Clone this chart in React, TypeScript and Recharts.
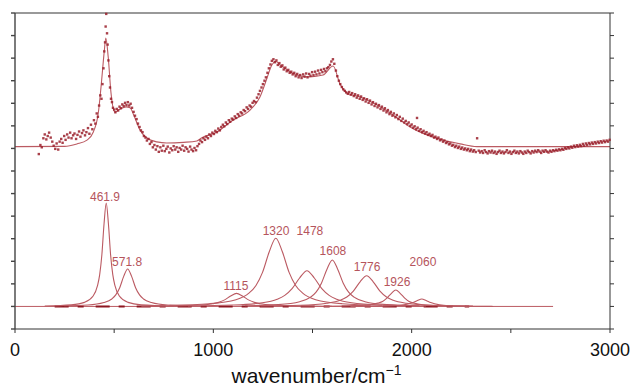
import {
  ComposedChart,
  Line,
  Scatter,
  XAxis,
  YAxis,
  ReferenceLine,
} from "recharts";

type Pt = [number, number];

// measured spectrum (wavenumber, intensity)
const spectrum: Pt[] = [
  [120, 7.75], [128, 8.15], [135, 8.05], [143, 8.45], [150, 8.62], [158, 8.4], [165, 8.55], [172, 8.7],
  [180, 8.48], [188, 8.3], [195, 8.12], [203, 7.98], [210, 8.22], [218, 7.95], [225, 8.3], [233, 8.42],
  [240, 8.25], [248, 8.55], [255, 8.38], [263, 8.62], [270, 8.48], [278, 8.7], [285, 8.45], [293, 8.58],
  [300, 8.66], [308, 8.42], [315, 8.6], [323, 8.75], [330, 8.52], [338, 8.68], [345, 8.8], [353, 8.58],
  [360, 8.72], [368, 8.9], [375, 8.65], [383, 9.05], [390, 8.85], [398, 9.25], [405, 9.1], [412, 9.55],
  [418, 9.4], [424, 9.9], [430, 10.35], [436, 10.2], [441, 10.85], [446, 11.55], [450, 12.3], [454, 12.7],
  [457, 13.4], [460, 13.96], [464, 13.1], [467, 12.6], [471, 11.9], [475, 11.2], [479, 10.7], [484, 10.2],
  [489, 10.05], [494, 9.8], [500, 9.72], [506, 9.6], [513, 9.75], [520, 9.68], [527, 9.85], [534, 9.78],
  [541, 9.95], [548, 9.88], [555, 10.02], [562, 9.92], [569, 10.05], [576, 9.9], [583, 9.98], [590, 9.8],
  [598, 9.62], [605, 9.45], [613, 9.3], [620, 9.1], [628, 8.95], [635, 8.8], [643, 8.72], [650, 8.55],
  [658, 8.48], [665, 8.35], [673, 8.42], [680, 8.2], [688, 8.28], [695, 8.05], [703, 8.15], [710, 7.95],
  [718, 8.1], [725, 7.85], [733, 8.05], [740, 7.9], [748, 8.12], [755, 7.88], [763, 7.98], [770, 8.08],
  [778, 7.82], [785, 8.0], [793, 7.92], [800, 8.1], [808, 7.95], [815, 8.05], [823, 7.85], [830, 8.02],
  [838, 7.95], [845, 8.12], [853, 7.9], [860, 8.05], [868, 7.98], [875, 7.86], [883, 8.08], [890, 7.95],
  [898, 7.88], [905, 8.02], [913, 7.92], [920, 8.1], [928, 8.2], [935, 8.35], [943, 8.28], [950, 8.45],
  [958, 8.38], [965, 8.52], [973, 8.45], [980, 8.62], [988, 8.55], [995, 8.7], [1003, 8.64], [1010, 8.78],
  [1018, 8.72], [1025, 8.88], [1033, 8.8], [1040, 8.95], [1048, 9.05], [1055, 8.98], [1063, 9.15], [1070, 9.08],
  [1078, 9.25], [1085, 9.18], [1093, 9.32], [1100, 9.28], [1108, 9.42], [1115, 9.35], [1123, 9.52], [1130, 9.45],
  [1138, 9.6], [1145, 9.55], [1153, 9.7], [1160, 9.65], [1168, 9.82], [1175, 9.75], [1183, 9.9], [1190, 9.85],
  [1198, 10.02], [1205, 10.1], [1213, 10.05], [1220, 10.25], [1228, 10.4], [1235, 10.55], [1243, 10.7], [1250, 10.85],
  [1258, 11.0], [1265, 11.15], [1273, 11.35], [1280, 11.55], [1288, 11.72], [1295, 11.88], [1303, 11.95], [1310, 11.82],
  [1318, 11.9], [1325, 11.7], [1333, 11.78], [1340, 11.62], [1348, 11.68], [1355, 11.5], [1363, 11.58], [1370, 11.42],
  [1378, 11.48], [1385, 11.35], [1393, 11.4], [1400, 11.28], [1408, 11.35], [1415, 11.2], [1423, 11.3], [1430, 11.15],
  [1438, 11.25], [1445, 11.12], [1453, 11.28], [1460, 11.18], [1468, 11.32], [1475, 11.15], [1483, 11.3], [1490, 11.22],
  [1498, 11.38], [1505, 11.25], [1513, 11.4], [1520, 11.28], [1528, 11.45], [1535, 11.32], [1543, 11.48], [1550, 11.38],
  [1558, 11.52], [1565, 11.42], [1573, 11.55], [1580, 11.6], [1588, 11.7], [1595, 11.85], [1603, 11.95], [1610, 11.75],
  [1618, 11.45], [1625, 11.2], [1633, 11.0], [1640, 10.85], [1648, 10.72], [1655, 10.62], [1663, 10.55], [1670, 10.48],
  [1678, 10.42], [1685, 10.5], [1693, 10.38], [1700, 10.45], [1708, 10.32], [1715, 10.4], [1723, 10.25], [1730, 10.35],
  [1738, 10.2], [1745, 10.3], [1753, 10.15], [1760, 10.22], [1768, 10.08], [1775, 10.18], [1783, 10.02], [1790, 10.12],
  [1798, 9.95], [1805, 10.05], [1813, 9.88], [1820, 9.98], [1828, 9.82], [1835, 9.92], [1843, 9.75], [1850, 9.85],
  [1858, 9.68], [1865, 9.78], [1873, 9.6], [1880, 9.7], [1888, 9.52], [1895, 9.62], [1903, 9.45], [1910, 9.55],
  [1918, 9.38], [1925, 9.48], [1933, 9.3], [1940, 9.4], [1948, 9.22], [1955, 9.32], [1963, 9.15], [1970, 9.22],
  [1978, 9.08], [1985, 9.15], [1993, 9.0], [2000, 9.06], [2008, 8.92], [2015, 8.98], [2023, 8.85], [2027, 9.35],
  [2030, 8.92], [2038, 8.78], [2045, 8.85], [2053, 8.72], [2060, 8.78], [2068, 8.66], [2075, 8.72], [2083, 8.6],
  [2090, 8.65], [2098, 8.55], [2105, 8.6], [2113, 8.48], [2120, 8.52], [2128, 8.42], [2135, 8.48], [2143, 8.36],
  [2150, 8.4], [2158, 8.3], [2165, 8.35], [2173, 8.24], [2180, 8.28], [2188, 8.18], [2195, 8.22], [2203, 8.12],
  [2210, 8.16], [2218, 8.06], [2225, 8.12], [2233, 8.02], [2240, 8.08], [2248, 7.98], [2255, 8.04], [2263, 7.95],
  [2270, 8.0], [2278, 7.92], [2285, 7.98], [2293, 7.88], [2300, 7.95], [2308, 7.86], [2315, 7.92], [2323, 7.84],
  [2330, 8.45], [2338, 7.9], [2345, 7.82], [2353, 7.88], [2360, 7.8], [2368, 7.92], [2375, 7.84], [2383, 7.78],
  [2390, 7.88], [2398, 7.82], [2405, 7.9], [2413, 7.8], [2420, 7.86], [2428, 7.76], [2435, 7.84], [2443, 7.9],
  [2450, 7.8], [2458, 7.86], [2465, 7.78], [2473, 7.84], [2480, 7.92], [2488, 7.8], [2495, 7.86], [2503, 7.76],
  [2510, 7.84], [2518, 7.9], [2525, 7.8], [2533, 7.86], [2540, 7.78], [2548, 7.88], [2555, 7.82], [2563, 7.76],
  [2570, 7.86], [2578, 7.8], [2585, 7.9], [2593, 7.84], [2600, 7.78], [2608, 7.88], [2615, 7.82], [2623, 7.9],
  [2630, 7.84], [2638, 7.92], [2645, 7.86], [2653, 7.8], [2660, 7.9], [2668, 7.85], [2675, 7.92], [2683, 7.86],
  [2690, 7.82], [2698, 7.9], [2705, 7.85], [2713, 7.92], [2720, 7.88], [2728, 7.94], [2735, 7.9], [2743, 7.96],
  [2750, 7.92], [2758, 7.98], [2765, 7.94], [2773, 8.02], [2780, 7.98], [2788, 8.05], [2795, 8.0], [2803, 8.08],
  [2810, 8.03], [2818, 8.12], [2825, 8.06], [2833, 8.14], [2840, 8.08], [2848, 8.16], [2855, 8.1], [2863, 8.2],
  [2870, 8.12], [2878, 8.22], [2885, 8.15], [2893, 8.24], [2900, 8.18], [2908, 8.26], [2915, 8.2], [2923, 8.28],
  [2930, 8.22], [2938, 8.3], [2945, 8.24], [2953, 8.32], [2960, 8.26], [2968, 8.34], [2975, 8.28], [2983, 8.35],
  [2990, 8.3], [2998, 8.38],
];

// fitted envelope over the spectrum
const fitCurve: Pt[] = [
  [0, 8.08], [250, 8.09], [312, 8.2], [363, 8.37], [395, 8.73], [420, 9.57], [437, 11.03], [450, 12.3],
  [458, 12.89], [470, 12.05], [484, 10.46], [504, 9.61], [530, 9.75], [560, 9.84], [580, 9.8], [600, 9.45],
  [630, 8.82], [665, 8.46], [715, 8.29], [765, 8.24], [850, 8.27], [917, 8.33], [940, 8.46], [1018, 8.73],
  [1100, 9.26], [1185, 9.7], [1235, 10.28], [1270, 11.1], [1295, 11.7], [1315, 11.85], [1340, 11.68],
  [1387, 11.39], [1437, 11.21], [1487, 11.17], [1553, 11.25], [1604, 11.65], [1639, 10.85], [1673, 10.46],
  [1740, 10.28], [1825, 9.92], [1906, 9.48], [1992, 8.95], [2077, 8.6], [2158, 8.37], [2244, 8.2],
  [2329, 8.08], [3000, 8.08],
];

// individual fitted bands (offset baseline = 1)
const peak462: Pt[] = [
  [150, 1.02], [284, 1.07], [350, 1.18], [394, 1.46], [416, 1.92], [427, 2.41], [438, 3.29], [449, 4.66],
  [460, 5.58], [471, 4.66], [482, 3.29], [493, 2.41], [504, 1.92], [526, 1.46], [570, 1.18], [636, 1.07], [800, 1.02],
];
const peak572: Pt[] = [
  [248, 1.03], [368, 1.06], [448, 1.17], [488, 1.33], [508, 1.51], [528, 1.83], [548, 2.33], [568, 2.66],
  [588, 2.33], [608, 1.83], [628, 1.51], [648, 1.33], [688, 1.17], [768, 1.06], [888, 1.03],
];
const peak1115: Pt[] = [
  [637, 1.01], [817, 1.02], [937, 1.06], [997, 1.12], [1027, 1.18], [1057, 1.29], [1087, 1.46], [1117, 1.58],
  [1147, 1.46], [1177, 1.29], [1207, 1.18], [1237, 1.12], [1297, 1.06], [1417, 1.02], [1597, 1.01],
];
const peak1320: Pt[] = [
  [779, 1.05], [980, 1.12], [1114, 1.3], [1181, 1.6], [1215, 1.93], [1248, 2.51], [1282, 3.42], [1315, 4.02],
  [1348, 3.42], [1382, 2.51], [1415, 1.93], [1449, 1.6], [1516, 1.3], [1650, 1.12], [1851, 1.05],
];
const peak1478: Pt[] = [
  [872, 1.02], [1097, 1.06], [1247, 1.16], [1322, 1.32], [1360, 1.49], [1397, 1.79], [1435, 2.26], [1472, 2.58],
  [1509, 2.26], [1547, 1.79], [1584, 1.49], [1622, 1.32], [1697, 1.16], [1847, 1.06], [2072, 1.02],
];
const peak1608: Pt[] = [
  [1160, 1.03], [1325, 1.08], [1435, 1.21], [1490, 1.41], [1518, 1.63], [1545, 2.03], [1573, 2.65], [1600, 3.06],
  [1627, 2.65], [1655, 2.03], [1682, 1.63], [1710, 1.41], [1765, 1.21], [1875, 1.08], [2040, 1.03],
];
const peak1776: Pt[] = [
  [1237, 1.02], [1438, 1.05], [1572, 1.14], [1639, 1.27], [1673, 1.42], [1706, 1.68], [1740, 2.09], [1773, 2.36],
  [1806, 2.09], [1840, 1.68], [1873, 1.42], [1907, 1.27], [1974, 1.14], [2108, 1.05], [2309, 1.02],
];
const peak1926: Pt[] = [
  [1560, 1.01], [1695, 1.03], [1785, 1.07], [1830, 1.15], [1853, 1.22], [1875, 1.37], [1898, 1.58], [1920, 1.73],
  [1942, 1.58], [1965, 1.37], [1987, 1.22], [2010, 1.15], [2055, 1.07], [2145, 1.03], [2280, 1.01],
];
const peak2060: Pt[] = [
  [1691, 1.0], [1826, 1.01], [1916, 1.03], [1961, 1.07], [2006, 1.17], [2029, 1.26], [2051, 1.33],
  [2073, 1.26], [2096, 1.17], [2141, 1.07], [2186, 1.03], [2276, 1.01], [2411, 1.0],
];
const bandBaseline: Pt[] = [[0, 1], [2713, 1]];
const residualBand: Pt[] = [[200, 1], [2290, 1]];

const peakLabels: { text: string; wn: number; v: number }[] = [
  { text: "461.9", wn: 454, v: 5.67 },
  { text: "571.8", wn: 565, v: 2.79 },
  { text: "1115", wn: 1114, v: 1.73 },
  { text: "1320", wn: 1316, v: 4.16 },
  { text: "1478", wn: 1487, v: 4.16 },
  { text: "1608", wn: 1603, v: 3.28 },
  { text: "1776", wn: 1775, v: 2.57 },
  { text: "1926", wn: 1926, v: 1.91 },
  { text: "2060", wn: 2057, v: 2.79 },
];

const xTicks = [0, 500, 1000, 1500, 2000, 2500, 3000];
const yTicks = [0, 1, 2, 3, 4, 5, 6, 7, 8, 9, 10, 11, 12, 13, 14];

const toRows = (pts: Pt[]) => pts.map(([wn, v]) => ({ wn, v }));

const peaks = [peak462, peak572, peak1115, peak1320, peak1478, peak1608, peak1776, peak1926, peak2060];

const FONT = "'Liberation Sans', Arial, sans-serif";
const BAND = "#bb5a62";
const DOT = "#9a1f2a";
const AXIS = "#333";

export default function App() {
  return (
    <div style={{ position: "relative", width: 633, height: 387, background: "#fff", fontFamily: FONT }}>
      <style>{"body{margin:0}"}</style>
      <ComposedChart width={633} height={387} margin={{ top: 13, right: 0, bottom: 0, left: 0 }}>
        <XAxis
          dataKey="wn"
          type="number"
          domain={[0, 3000]}
          ticks={xTicks}
          tickFormatter={(v: number) => (v % 1000 === 0 ? String(v) : "")}
          tickSize={4}
          tickMargin={10}
          height={58}
          stroke={AXIS}
          tick={{ fontSize: 18, fill: "#111", fontFamily: FONT }}
        />
        <YAxis
          yAxisId="left"
          orientation="left"
          dataKey="v"
          type="number"
          domain={[0, 14]}
          ticks={yTicks}
          tickFormatter={() => ""}
          tickSize={4}
          width={15}
          stroke="#444"
          strokeWidth={1.4}
        />
        <YAxis
          yAxisId="right"
          orientation="right"
          dataKey="v"
          type="number"
          domain={[0, 14]}
          ticks={yTicks}
          tickFormatter={() => ""}
          tickSize={4}
          width={23}
          stroke={AXIS}
        />
        <ReferenceLine yAxisId="left" y={14} stroke="#777" strokeWidth={1.5} ifOverflow="visible" />

        <Line yAxisId="left" data={toRows(bandBaseline)} dataKey="v" stroke={BAND} strokeWidth={1} dot={false} isAnimationActive={false} />
        <Line
          yAxisId="left"
          data={toRows(residualBand)}
          dataKey="v"
          stroke="#8e1620"
          strokeWidth={2}
          strokeDasharray="14 9 6 12"
          dot={false}
          isAnimationActive={false}
        />
        {peaks.map((p, i) => (
          <Line
            key={i}
            yAxisId="left"
            data={toRows(p)}
            dataKey="v"
            type="monotone"
            stroke={BAND}
            strokeWidth={1.1}
            dot={false}
            isAnimationActive={false}
          />
        ))}
        <Scatter
          yAxisId="left"
          data={toRows(spectrum)}
          dataKey="v"
          isAnimationActive={false}
          shape={(p: any) => (
            <rect x={p.cx - 1.2} y={p.cy - 1.2} width={2.4} height={2.4} fill={DOT} fillOpacity={0.85} />
          )}
        />
        <Line yAxisId="left" data={toRows(fitCurve)} dataKey="v" type="monotone" stroke={BAND} strokeWidth={1.1} dot={false} isAnimationActive={false} />
        <Line
          yAxisId="right"
          data={toRows(bandBaseline)}
          dataKey="v"
          stroke="none"
          dot={false}
          isAnimationActive={false}
        />
        <Scatter
          yAxisId="left"
          data={peakLabels}
          dataKey="v"
          isAnimationActive={false}
          shape={(p: any) => (
            <text x={p.cx} y={p.cy} textAnchor="middle" fontSize={12} fill="#b5545c" fontFamily={FONT}>
              {p.payload.text}
            </text>
          )}
        />
      </ComposedChart>
      <div
        style={{
          position: "absolute",
          left: 0,
          top: 364,
          width: 633,
          textAlign: "center",
          fontSize: 21,
          color: "#111",
          lineHeight: "24px",
        }}
      >
        wavenumber/cm<sup style={{ fontSize: 14, verticalAlign: "8px", lineHeight: 0 }}>−1</sup>
      </div>
    </div>
  );
}
